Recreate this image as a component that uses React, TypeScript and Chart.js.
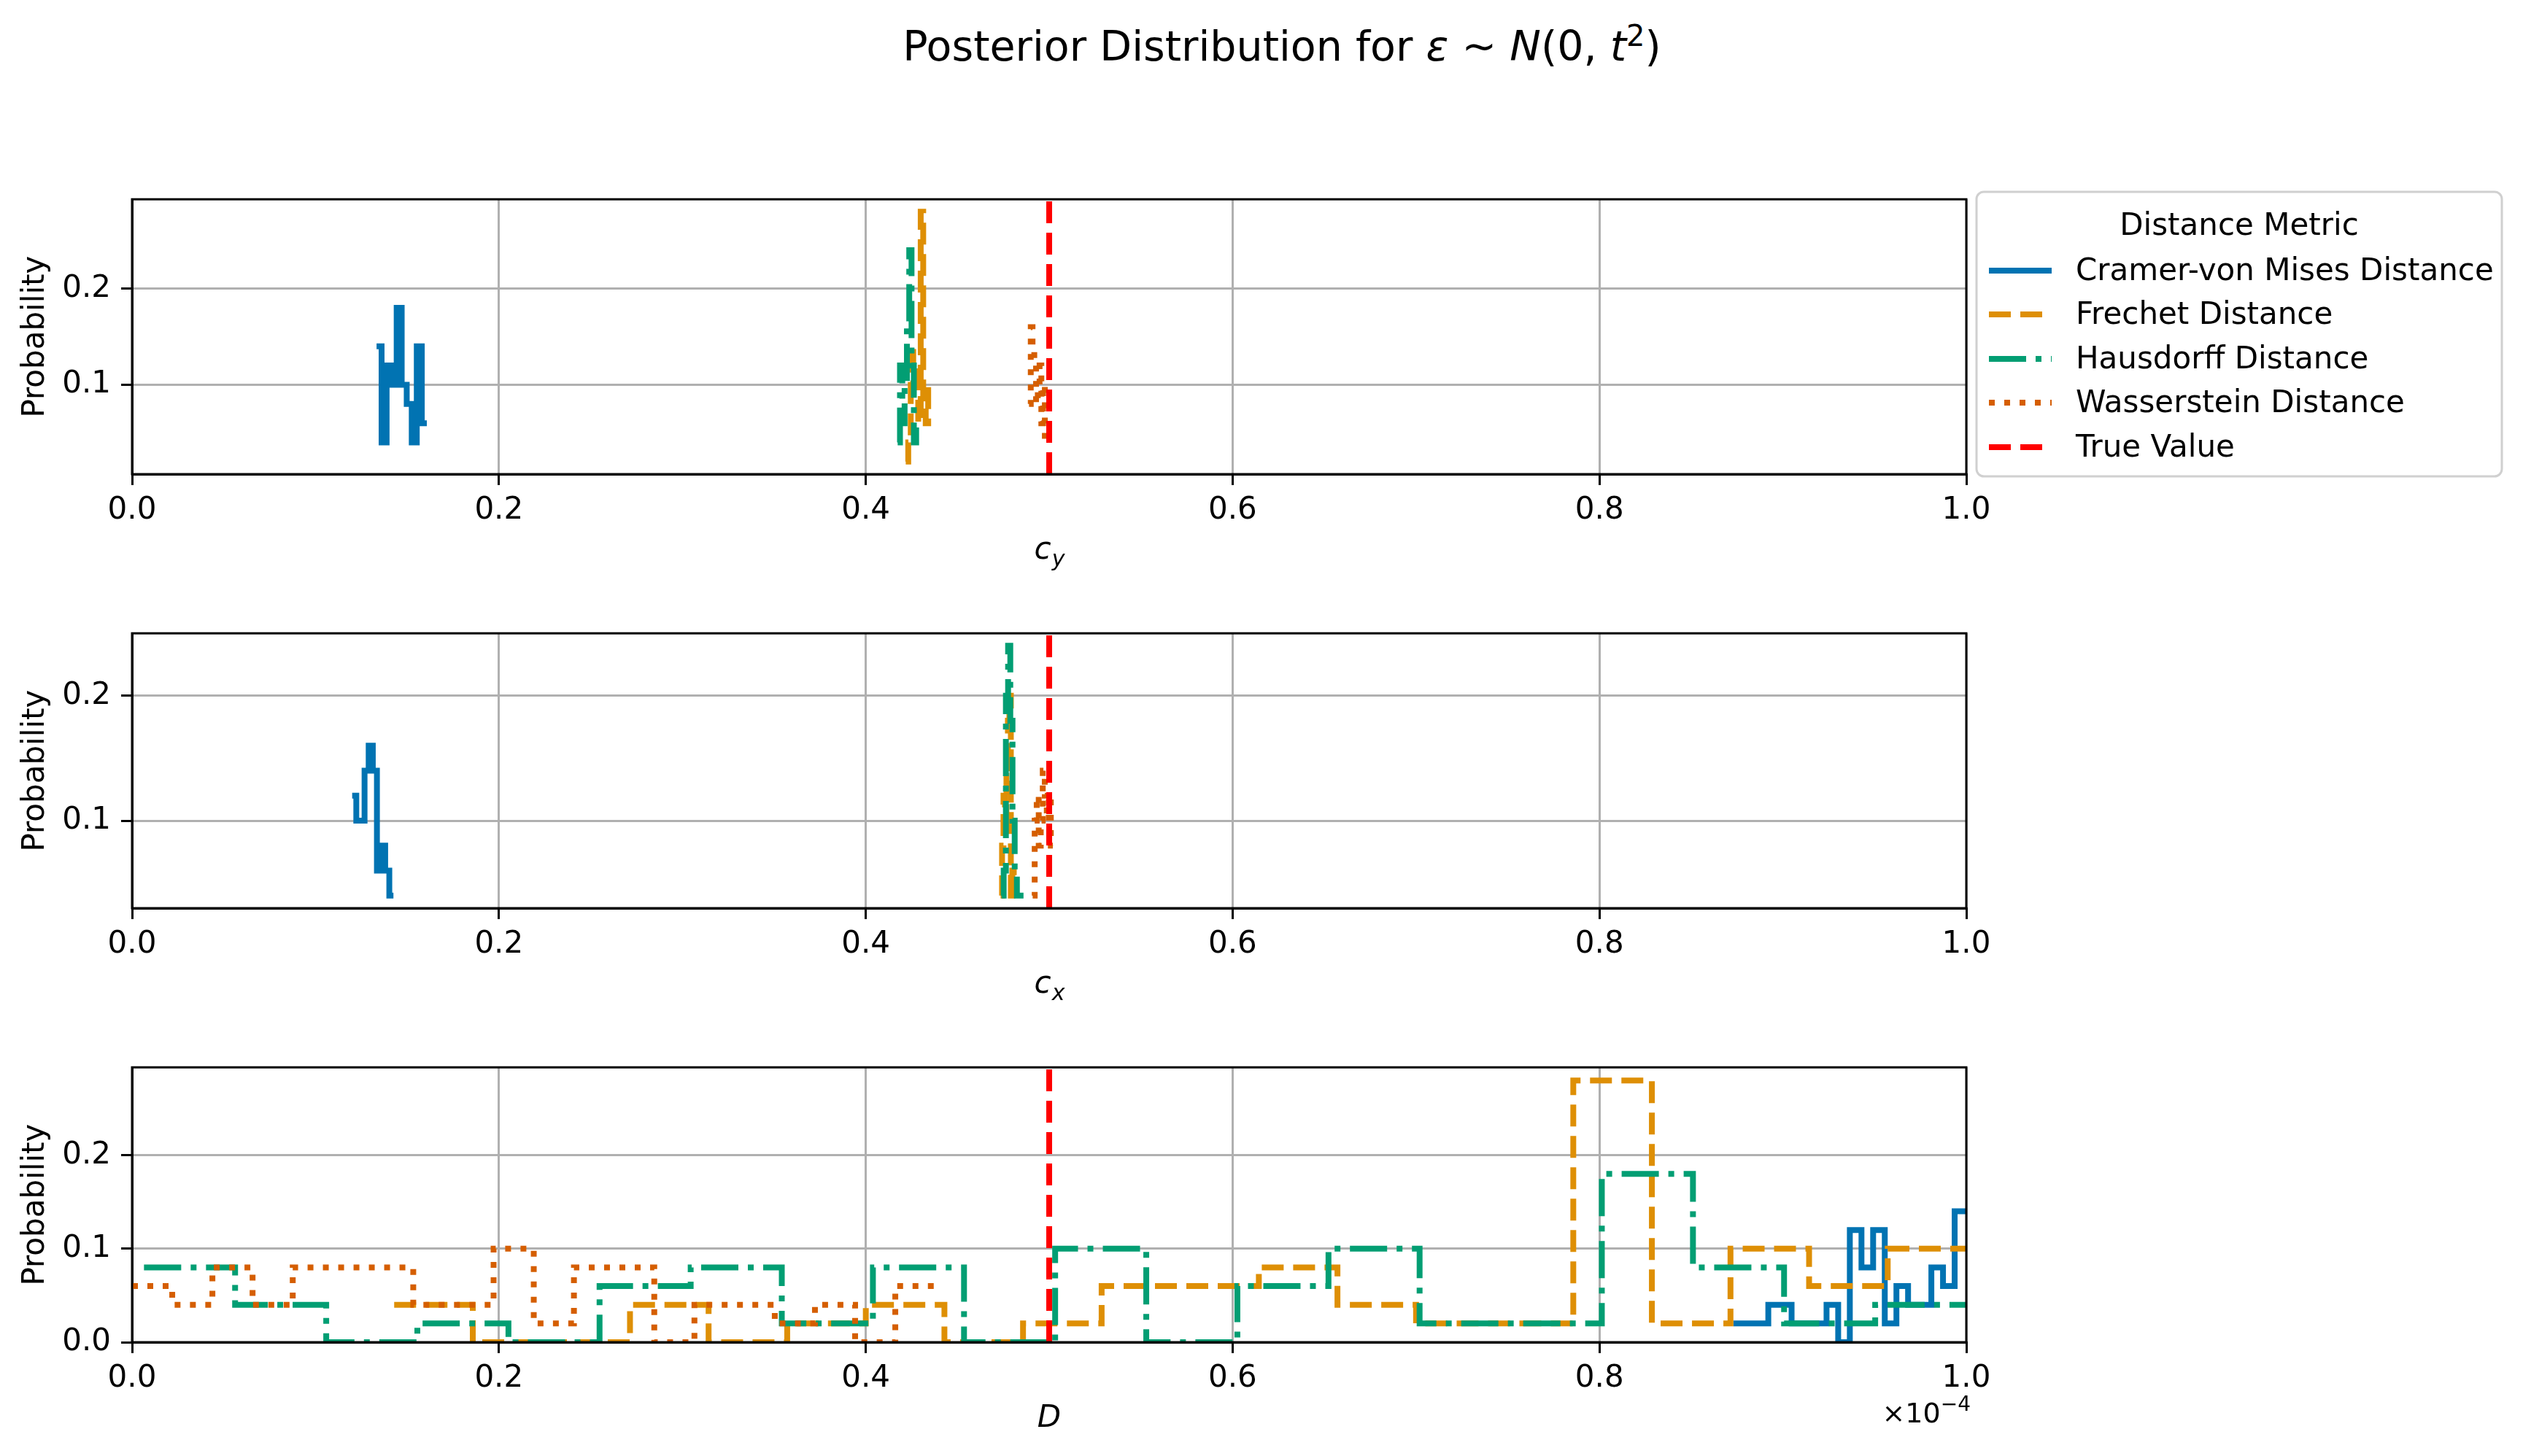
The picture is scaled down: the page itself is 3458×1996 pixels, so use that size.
import React, { useEffect, useRef } from "react";
import { Chart, registerables } from "chart.js";
Chart.register(...registerables);

// ---------- data ----------
const seriesNames = ["Cramer-von Mises Distance", "Frechet Distance", "Hausdorff Distance", "Wasserstein Distance", "True Value"];
const xTicks = [0, 0.2, 0.4, 0.6, 0.8, 1.0];
const trueValue = 0.5;

// panel c_y : [binStart, binEnd] and probabilities
const cyCramerRange = [0.1333, 0.1607];
const cyCramer = [0.14, 0.04, 0.12, 0.1, 0.18, 0.1, 0.08, 0.04, 0.14, 0.06];
const cyFrechetRange = [0.4218, 0.4354];
const cyFrechet = [0.02, 0.04, 0.14, 0.1, 0.12, 0.06, 0.28, 0.08, 0.06, 0.1];
const cyHausdorffRange = [0.4174, 0.43];
const cyHausdorff = [0.04, 0.12, 0.06, 0.1, 0.16, 0.24, 0.12, 0.04, 0.06, 0.06];
const cyWassersteinRange = [0.489, 0.4986];
const cyWasserstein = [0.08, 0.16, 0.14, 0.12, 0.08, 0.1, 0.12, 0.06, 0.1, 0.04];

// panel c_x
const cxCramerRange = [0.12, 0.1425];
const cxCramer = [0.12, 0.1, 0.1, 0.14, 0.16, 0.14, 0.06, 0.08, 0.06, 0.04];
const cxFrechetRange = [0.4735, 0.4815];
const cxFrechet = [0.04, 0.08, 0.12, 0.1, 0.14, 0.18, 0.2, 0.04, 0.06, 0.04];
const cxHausdorffRange = [0.474, 0.486];
const cxHausdorff = [0.04, 0.06, 0.2, 0.24, 0.18, 0.1, 0.06, 0.04, 0.04, 0.04];
const cxWassersteinRange = [0.491, 0.502];
const cxWasserstein = [0.04, 0.1, 0.12, 0.08, 0.1, 0.14, 0.12, 0.1, 0.12, 0.08];

// panel D (x 1e-4)
const dCramerRange = [0.873, 1.0];
const dCramer = [0.02, 0.02, 0.02, 0.04, 0.04, 0.02, 0.02, 0.02, 0.04, 0, 0.12, 0.08, 0.12, 0.02, 0.06, 0.04, 0.04, 0.08, 0.06, 0.14];
const dFrechetRange = [0.1429, 1.0];
const dFrechet = [0.04, 0, 0, 0.04, 0, 0.02, 0.04, 0, 0.02, 0.06, 0.06, 0.08, 0.04, 0.02, 0.02, 0.28, 0.02, 0.1, 0.06, 0.1];
const dHausdorffRange = [0.0065, 1.0];
const dHausdorff = [0.08, 0.04, 0, 0.02, 0, 0.06, 0.08, 0.02, 0.08, 0, 0.1, 0, 0.06, 0.1, 0.02, 0.02, 0.18, 0.08, 0.02, 0.04];
const dWassersteinRange = [0.0, 0.438];
const dWasserstein = [0.06, 0.04, 0.08, 0.04, 0.08, 0.08, 0.08, 0.04, 0.04, 0.1, 0.02, 0.08, 0.08, 0, 0.04, 0.04, 0.02, 0.04, 0, 0.06];

// ---------- style ----------
const COLORS = ["#0173B2", "#DE8F05", "#029E73", "#D55E00", "#FF0000"];
const LW = 8;
const DASHES: number[][] = [[], [30, 13], [51, 13, 8, 13], [8, 13], [30, 13]];
const FONT = "'DejaVu Sans', sans-serif";
const W = 3458;
const LEFT = 181;
const RIGHT = 2695;

function steps(range: number[], vals: number[]) {
  const n = vals.length;
  const w = (range[1] - range[0]) / n;
  const pts = vals.map((v, i) => ({ x: range[0] + i * w, y: v }));
  pts.push({ x: range[1], y: vals[n - 1] });
  return pts;
}

type Panel = {
  top: number; h: number; ymin: number; ymax: number; yticks: number[];
  series: [number[], number[]][]; label: [string, string]; offset?: boolean; legend?: boolean;
};

const PANELS: Panel[] = [
  { top: 254, h: 396, ymin: 0.007, ymax: 0.293, yticks: [0.1, 0.2], label: ["c", "y"], legend: true,
    series: [[cyCramerRange, cyCramer], [cyFrechetRange, cyFrechet], [cyHausdorffRange, cyHausdorff], [cyWassersteinRange, cyWasserstein]] },
  { top: 849, h: 396, ymin: 0.03, ymax: 0.25, yticks: [0.1, 0.2], label: ["c", "x"],
    series: [[cxCramerRange, cxCramer], [cxFrechetRange, cxFrechet], [cxHausdorffRange, cxHausdorff], [cxWassersteinRange, cxWasserstein]] },
  { top: 1444, h: 396, ymin: 0, ymax: 0.294, yticks: [0, 0.1, 0.2], label: ["D", ""], offset: true,
    series: [[dCramerRange, dCramer], [dFrechetRange, dFrechet], [dHausdorffRange, dHausdorff], [dWassersteinRange, dWasserstein]] },
];

const PADTOP = 20;
const BOTTOM = 160;

function PanelChart({ p }: { p: Panel }) {
  const ref = useRef<HTMLCanvasElement>(null);
  useEffect(() => {
    const datasets: any[] = p.series.map(([r, v], i) => ({
      label: seriesNames[i], data: steps(r, v), stepped: "before",
      borderColor: COLORS[i], borderWidth: LW, borderDash: DASHES[i],
      pointRadius: 0, fill: false, order: 5 - i, borderCapStyle: "butt",
    }));
    datasets.push({
      label: seriesNames[4], data: [{ x: trueValue, y: p.ymin }, { x: trueValue, y: p.ymax }],
      borderColor: COLORS[4], borderWidth: LW, borderDash: DASHES[4], pointRadius: 0, order: 0,
    });
    const deco = {
      id: "deco",
      afterDraw(chart: any) {
        const ctx = chart.ctx; const a = chart.chartArea;
        ctx.save();
        ctx.strokeStyle = "#000"; ctx.lineWidth = 3;
        ctx.strokeRect(a.left, a.top, a.right - a.left, a.bottom - a.top);
        ctx.fillStyle = "#000";
        const cx = (a.left + a.right) / 2; const by = a.bottom + 116;
        ctx.font = `italic 42px ${FONT}`;
        const mw = ctx.measureText(p.label[0]).width;
        ctx.font = `italic 30px ${FONT}`;
        const sw = p.label[1] ? ctx.measureText(p.label[1]).width : 0;
        const x0 = cx - (mw + sw) / 2;
        ctx.textBaseline = "alphabetic"; ctx.textAlign = "left";
        ctx.font = `italic 42px ${FONT}`;
        ctx.fillText(p.label[0], x0, by);
        if (p.label[1]) { ctx.font = `italic 30px ${FONT}`; ctx.fillText(p.label[1], x0 + mw + 1, by + 10); }
        ctx.save();
        ctx.translate(49, (a.top + a.bottom) / 2); ctx.rotate(-Math.PI / 2);
        ctx.font = `42px ${FONT}`; ctx.textAlign = "center"; ctx.textBaseline = "middle";
        ctx.fillText("Probability", 0, 0);
        ctx.restore();
        if (p.offset) {
          ctx.textAlign = "right";
          ctx.font = `28px ${FONT}`; const ew = ctx.measureText("−4").width;
          ctx.fillText("−4", a.right + 6, by - 22);
          ctx.font = `38px ${FONT}`; ctx.fillText("×10", a.right + 6 - ew, by - 6);
        }
        if (p.legend) {
          const oy = p.top - PADTOP;
          const bx = 2709, bw = 720, byy = 263 - oy, bh = 390, r = 10;
          ctx.beginPath();
          ctx.moveTo(bx + r, byy); ctx.arcTo(bx + bw, byy, bx + bw, byy + bh, r);
          ctx.arcTo(bx + bw, byy + bh, bx, byy + bh, r); ctx.arcTo(bx, byy + bh, bx, byy, r);
          ctx.arcTo(bx, byy, bx + bw, byy, r); ctx.closePath();
          ctx.fillStyle = "rgba(255,255,255,0.8)"; ctx.fill();
          ctx.strokeStyle = "#d0d0d0"; ctx.lineWidth = 3; ctx.stroke();
          ctx.fillStyle = "#000"; ctx.font = `42px ${FONT}`; ctx.textBaseline = "middle";
          ctx.textAlign = "center"; ctx.fillText("Distance Metric", bx + bw / 2, 311 - oy);
          const ys = [371, 431, 492, 552, 613];
          ctx.textAlign = "left";
          seriesNames.forEach((n, i) => {
            const y = ys[i] - oy;
            ctx.beginPath(); ctx.setLineDash(DASHES[i]); ctx.strokeStyle = COLORS[i]; ctx.lineWidth = LW;
            ctx.moveTo(2726, y); ctx.lineTo(2812, y); ctx.stroke(); ctx.setLineDash([]);
            ctx.fillStyle = "#000"; ctx.fillText(n, 2845, y + 2);
          });
        }
        ctx.restore();
      },
    };
    const chart = new Chart(ref.current!, {
      type: "line",
      data: { datasets },
      plugins: [deco],
      options: {
        animation: false, responsive: false, devicePixelRatio: 1,
        layout: { padding: { top: 0, left: 0, right: W - RIGHT, bottom: 0 } },
        plugins: { legend: { display: false }, tooltip: { enabled: false } },
        scales: {
          x: {
            type: "linear", min: 0, max: 1,
            afterBuildTicks: (s: any) => { s.ticks = xTicks.map((v) => ({ value: v })); },
            afterFit: (s: any) => { s.height = BOTTOM; },
            ticks: { font: { family: FONT, size: 42 }, color: "#000", padding: 10, maxRotation: 0, callback: (v: any) => Number(v).toFixed(1) },
            grid: { color: "#b0b0b0", lineWidth: 3, tickLength: 15, tickColor: "#000", tickWidth: 3 },
            border: { color: "#000", width: 3 },
          },
          y: {
            type: "linear", min: p.ymin, max: p.ymax,
            afterBuildTicks: (s: any) => { s.ticks = p.yticks.map((v) => ({ value: v })); },
            afterFit: (s: any) => { s.width = LEFT; },
            ticks: { font: { family: FONT, size: 42 }, color: "#000", padding: 14, callback: (v: any) => Number(v).toFixed(1) },
            grid: { color: "#b0b0b0", lineWidth: 3, tickLength: 15, tickColor: "#000", tickWidth: 3 },
            border: { color: "#000", width: 3 },
          },
        },
      } as any,
    });
    return () => chart.destroy();
  }, []);
  const H = PADTOP + p.h + BOTTOM;
  return <canvas ref={ref} width={W} height={H}
    style={{ position: "absolute", left: 0, top: p.top - PADTOP, width: W, height: H }} />;
}

export default function App() {
  return (
    <div style={{ position: "fixed", left: 0, top: 0, width: W, height: 1996, background: "#fff", overflow: "hidden" }}>
      <div style={{ position: "absolute", left: 0, width: W, top: 26, textAlign: "center", fontFamily: FONT, fontSize: 57, color: "#000", paddingLeft: 56, boxSizing: "border-box" }}>
        Posterior Distribution for <i>ε</i> ~ <i>N</i>(0, <i>t</i><sup style={{ fontSize: 40 }}>2</sup>)
      </div>
      {PANELS.map((p, i) => <PanelChart key={i} p={p} />)}
    </div>
  );
}
